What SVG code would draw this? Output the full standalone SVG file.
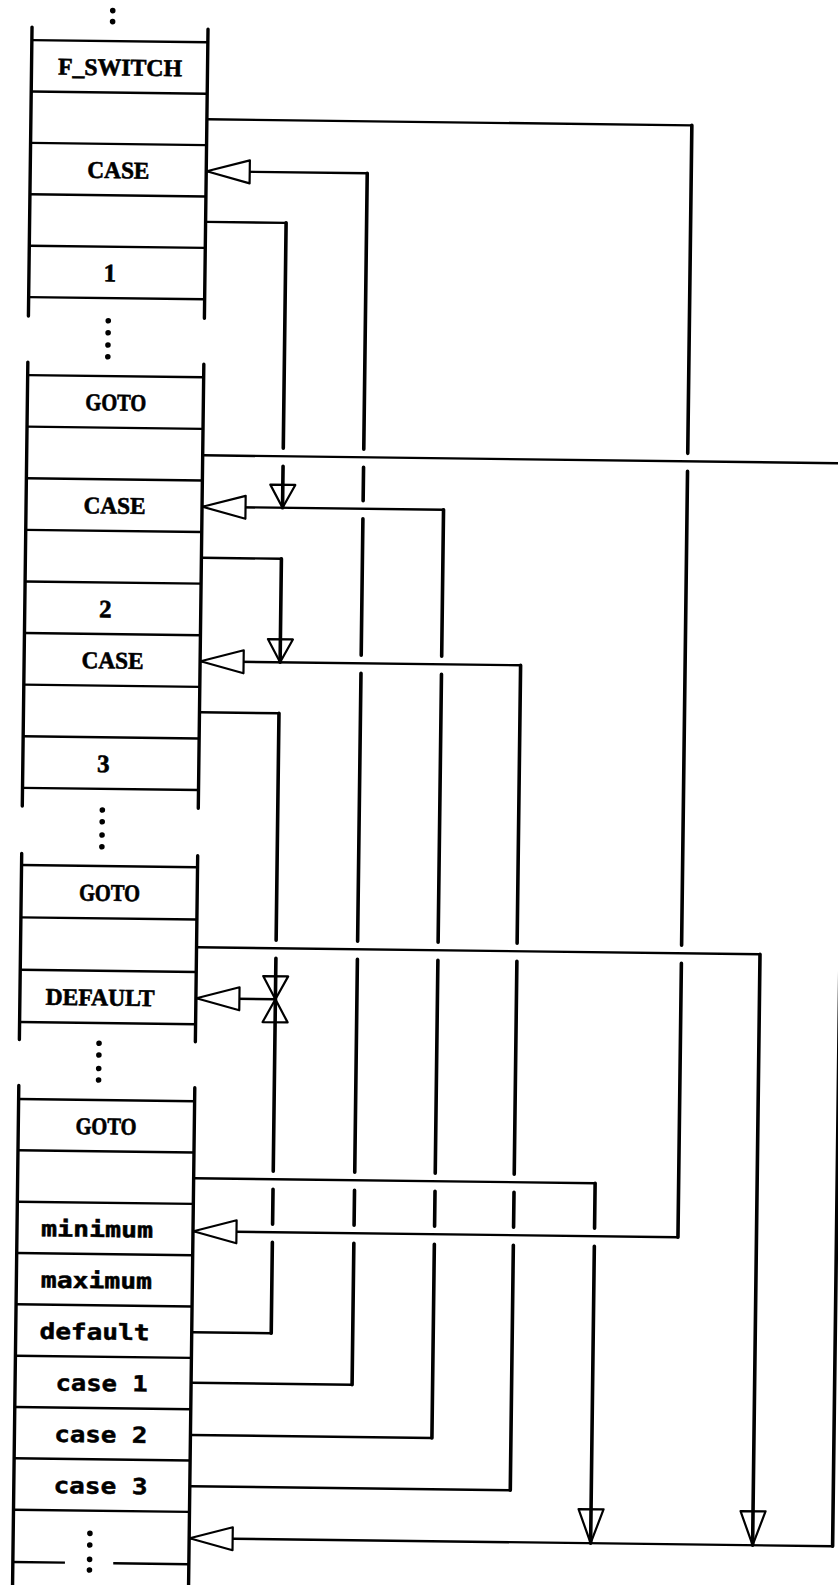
<svg xmlns="http://www.w3.org/2000/svg" width="838" height="1585" viewBox="0 0 838 1585">
<style>
.col{stroke:#000;stroke-width:3.4;stroke-linecap:round;fill:none}
.row{stroke:#000;stroke-width:2.4;fill:none}
.h{stroke:#000;stroke-width:2.4;fill:none;stroke-linecap:round}
.v{stroke:#000;stroke-width:3.6;fill:none;stroke-linecap:round}
.dot{fill:#000}
.u{font-family:"Liberation Serif",serif;font-weight:bold;font-size:24px;text-anchor:middle;fill:#000;stroke:#000;stroke-width:0.6}
.dg{font-family:"Liberation Serif",serif;font-weight:bold;font-size:25px;text-anchor:middle;fill:#000;stroke:#000;stroke-width:0.6}
.l{font-family:"DejaVu Sans Mono",monospace;font-weight:bold;font-size:22px;text-anchor:middle;fill:#000;stroke:#000;stroke-width:0.5}
</style>
<defs>
<marker id="al" markerUnits="userSpaceOnUse" markerWidth="48" markerHeight="28" refX="45" refY="14" orient="auto" overflow="visible">
<path d="M45,14 L2,2.5 L2,25.5 Z" fill="#fff" stroke="#000" stroke-width="2.2" stroke-linejoin="round"/>
</marker>
<marker id="as" markerUnits="userSpaceOnUse" markerWidth="28" markerHeight="30" refX="25" refY="15" orient="auto" overflow="visible">
<path d="M25,15 L2,2.5 L2,27.5 Z" fill="none" stroke="#000" stroke-width="2.2" stroke-linejoin="round"/>
</marker>
<marker id="ab" markerUnits="userSpaceOnUse" markerWidth="40" markerHeight="30" refX="36" refY="15" orient="auto" overflow="visible">
<path d="M36,15 L2,2.5 L2,27.5 Z" fill="none" stroke="#000" stroke-width="2.2" stroke-linejoin="round"/>
</marker>
</defs>
<rect x="0" y="0" width="838" height="1585" fill="#fff"/>
<g transform="rotate(0.716 419 792)">

<g id="block1">
<circle class="dot" cx="103" cy="14.5" r="2.8"/><circle class="dot" cx="103" cy="25.5" r="2.8"/>
<path class="col" d="M22.5,32 V321 M198.5,32 V321"/>
<path class="row" d="M22.5,45 H198.5 M22.5,96.4 H198.5 M22.5,147.8 H198.5 M22.5,199.2 H198.5 M22.5,250.6 H198.5 M22.5,302 H198.5"/>
<g id="fswitch"><text class="u" x="111" y="79.2" textLength="124" lengthAdjust="spacingAndGlyphs">F_SWITCH</text></g>
<g id="case1"><text class="u" x="110.7" y="182" textLength="62" lengthAdjust="spacingAndGlyphs">CASE</text></g>
<g id="val1"><text class="dg" x="103.5" y="285.3">1</text></g>
</g>

<g id="dots12">
<circle class="dot" cx="102.4" cy="324.6" r="2.8"/><circle class="dot" cx="102.4" cy="336.6" r="2.8"/>
<circle class="dot" cx="102.4" cy="348.9" r="2.8"/><circle class="dot" cx="102.4" cy="360.6" r="2.8"/>
</g>

<g id="block2">
<path class="col" d="M22.5,367 V811 M198.5,367 V811"/>
<path class="row" d="M22.5,380 H198.5 M22.5,431.6 H198.5 M22.5,483.2 H198.5 M22.5,534.8 H198.5 M22.5,586.4 H198.5 M22.5,638 H198.5 M22.5,689.6 H198.5 M22.5,741.2 H198.5 M22.5,792.8 H198.5"/>
<g id="goto1"><text class="u" x="111" y="414.3" textLength="61" lengthAdjust="spacingAndGlyphs">GOTO</text></g>
<g id="case2"><text class="u" x="111" y="517.5" textLength="62" lengthAdjust="spacingAndGlyphs">CASE</text></g>
<g id="val2"><text class="dg" x="103" y="621.2">2</text></g>
<g id="case3"><text class="u" x="111" y="672.3" textLength="62" lengthAdjust="spacingAndGlyphs">CASE</text></g>
<g id="val3"><text class="dg" x="103" y="776">3</text></g>
</g>

<g id="dots23">
<circle class="dot" cx="102.6" cy="814" r="2.8"/><circle class="dot" cx="102.6" cy="825.7" r="2.8"/>
<circle class="dot" cx="102.6" cy="839" r="2.8"/><circle class="dot" cx="102.6" cy="850.7" r="2.8"/>
</g>

<g id="block3">
<path class="col" d="M22.5,858.5 V1044.5 M198.5,858.5 V1044.5"/>
<path class="row" d="M22.5,870 H198.5 M22.5,922.3 H198.5 M22.5,974.7 H198.5 M22.5,1027 H198.5"/>
<g id="goto2"><text class="u" x="110.8" y="904.7" textLength="61" lengthAdjust="spacingAndGlyphs">GOTO</text></g>
<g id="default-label"><text class="u" x="102.6" y="1009.4" textLength="109" lengthAdjust="spacingAndGlyphs">DEFAULT</text></g>
</g>

<g id="dots34">
<circle class="dot" cx="102.2" cy="1047.3" r="2.8"/><circle class="dot" cx="102.2" cy="1059" r="2.8"/>
<circle class="dot" cx="102.2" cy="1072.5" r="2.8"/><circle class="dot" cx="102.2" cy="1084" r="2.8"/>
</g>

<g id="block4">
<path class="col" d="M22.5,1090.5 V1600 M198.5,1090.5 V1600"/>
<path class="row" d="M22.5,1104 H198.5 M22.5,1155.3 H198.5 M22.5,1206.7 H198.5 M22.5,1258 H198.5 M22.5,1309.3 H198.5 M22.5,1360.7 H198.5 M22.5,1412 H198.5 M22.5,1463.3 H198.5 M22.5,1514.7 H198.5 M22.5,1567 H74.6 M122.9,1567 H198.5"/>
<g id="goto3"><text class="u" x="110.2" y="1138.2" textLength="61" lengthAdjust="spacingAndGlyphs">GOTO</text></g>
<g id="minimum"><text class="l" x="102.5" y="1240.9" textLength="112" lengthAdjust="spacingAndGlyphs">minimum</text></g>
<g id="maximum"><text class="l" x="102.6" y="1292.2" textLength="111" lengthAdjust="spacingAndGlyphs">maximum</text></g>
<g id="default-entry"><text class="l" x="101.3" y="1343.5" textLength="110" lengthAdjust="spacingAndGlyphs">default</text></g>
<g id="case1-entry"><text class="l" x="109" y="1394.9" textLength="92" lengthAdjust="spacingAndGlyphs">case 1</text></g>
<g id="case2-entry"><text class="l" x="109" y="1446.2" textLength="93" lengthAdjust="spacingAndGlyphs">case 2</text></g>
<g id="case3-entry"><text class="l" x="109.2" y="1497.5" textLength="94" lengthAdjust="spacingAndGlyphs">case 3</text></g>
<g id="end-dots">
<circle class="dot" cx="99.2" cy="1537.4" r="2.8"/><circle class="dot" cx="99.2" cy="1549.1" r="2.8"/>
<circle class="dot" cx="99.2" cy="1563.4" r="2.8"/><circle class="dot" cx="99.2" cy="1574.1" r="2.8"/>
</g>
</g>

<g id="connectors">
<g id="cA">
<path class="h" d="M199,122 H683.5"/>
<path class="v" d="M683.5,122 V450 M683.5,468 V942 M683.5,960 V1234"/>
<path class="h" d="M683.5,1234 H199" marker-end="url(#al)"/>
</g>
<g id="cN">
<path class="h" d="M199,1385.5 H359.5"/>
<path class="v" d="M359.5,1385.5 V1244 M359.5,1226 V1191 M359.5,1173 V960 M359.5,942 V674 M359.5,656 V519.5 M359.5,501.5 V468 M359.5,450 V174"/>
<path class="h" d="M359.5,174 H199" marker-end="url(#al)"/>
</g>
<g id="cO">
<path class="h" d="M199,1437.8 H440"/>
<path class="v" d="M440,1437.8 V1244 M440,1226 V1191 M440,1173 V960 M440,942 V674 M440,656 V509.5"/>
<path class="h" d="M440,509.5 H199" marker-end="url(#al)"/>
</g>
<g id="cP">
<path class="h" d="M199,1489 H519"/>
<path class="v" d="M519,1489 V1244 M519,1226 V1191 M519,1173 V960 M519,942 V664"/>
<path class="h" d="M519,664 H199" marker-end="url(#al)"/>
</g>
<g id="cM">
<path class="h" d="M199,1335 H278"/>
<path class="v" d="M278,1335 V1244 M278,1226 V1191 M278,1173 V1001" marker-end="url(#as)"/>
</g>
<g id="cH">
<path class="h" d="M199,715 H278"/>
<path class="v" d="M278,715 V942 M278,960 V1001" marker-end="url(#as)"/>
</g>
<g id="cJ">
<path class="h" d="M278,1001 H199" marker-end="url(#al)"/>
</g>
<g id="cC">
<path class="h" d="M199,224.6 H279"/>
<path class="v" d="M279,224.6 V450 M279,468 V509.5" marker-end="url(#as)"/>
</g>
<g id="cF">
<path class="h" d="M199,560.5 H278.5"/>
<path class="v" d="M278.5,560.5 V664" marker-end="url(#as)"/>
</g>
<g id="cD">
<path class="h" d="M199,458 H842"/>
<path class="v" d="M842,458 V1541"/>
<path class="h" d="M842,1541 H199" marker-end="url(#al)"/>
</g>
<g id="cI">
<path class="h" d="M199,950 H762"/>
<path class="v" d="M762,950 V1541" marker-end="url(#ab)"/>
</g>
<g id="cK">
<path class="h" d="M199,1181 H600"/>
<path class="v" d="M600,1181 V1226 M600,1244 V1541" marker-end="url(#ab)"/>
</g>
</g>
</g>
</svg>
